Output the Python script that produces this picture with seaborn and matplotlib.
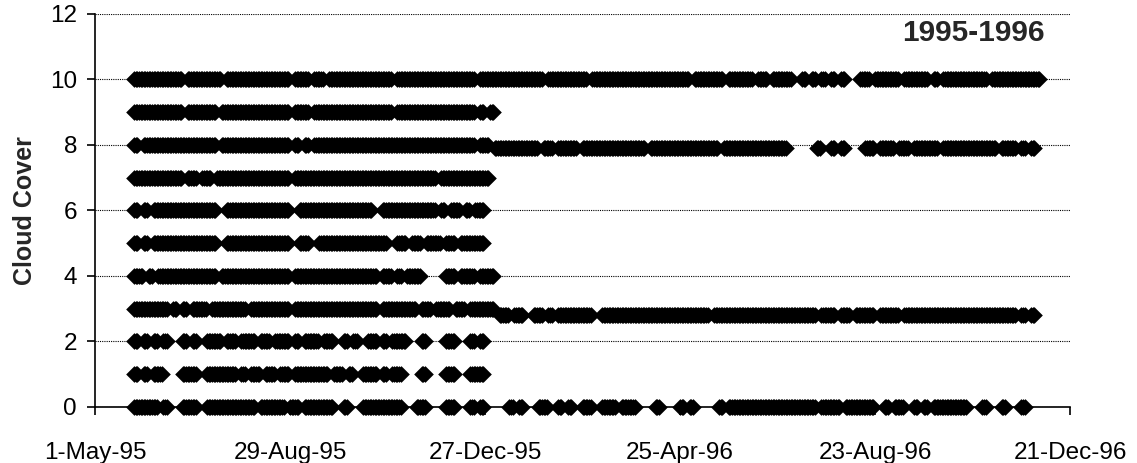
"""
Cloud cover scatter, 1995-1996
"""

import pandas as pd
import matplotlib
matplotlib.use('Agg')
import matplotlib.pyplot as plt
import seaborn as sns

sns.set_style('ticks')
plt.rcParams['font.family'] = ['Liberation Sans', 'DejaVu Sans']

# one character = one 3-day slot counted from START,
# '#' = daily readings at that cover value on each day of the slot
START = pd.Timestamp('1995-05-01')
SLOT_DAYS = 3

TICK_DATES = ['1995-05-01', '1995-08-29', '1995-12-27', '1996-04-25', '1996-08-23', '1996-12-21']

COVER_10 = ["........##", "########.#", "######.###", "##########", ".###.##.##",
            "##########", "#.########", "########.#", "##########", "##.#######",
            "#.########", "##########", "##.######.", "#####.##.#", "###..#.#.#",
            ".#.#...##.", "#####.####", "#.#.######", "###.######", "####......"]
COVER_9 = ["........##", "########.#", "#####.####", "##########", ".###.#####",
           "##########", "#.########", "########.#", ".#........"]
COVER_8 = ["........#.", "##########", "#####.####", "##########", ".#.#.#####",
           "##########", "##########", "########.#", "#........."]
COVER_7_9 = ["..........", "..........", "..........", "..........", "..........",
             "..........", "..........", "..........", "..########", "#.##.####.",
             "##########", "###.######", "########.#", "##########", "##......#.",
             ".#.#....##", ".###.##.##", "###.######", "#####.###.", "#.#......."]
COVER_7 = ["........##", "########.#", "#.##.#####", "##########", ".#########",
           "##########", "##########", ".#########", "#........."]
COVER_6 = ["........#.", "#.########", "#####..###", "##########", "..########",
           "#######..#", "##########", ".#.##.#.##"]
COVER_5 = ["........#.", "#.########", "#####..###", "##########", "..##..####",
           "##########", "..##.##.##", "#.##.#####"]
COVER_4 = ["........##", ".#.#######", "#####.####", "##########", ".#########",
           "########.#", "#.#.###...", "..##.###.#", "##........"]
COVER_3 = ["........##", "#####.#.#.", "###.######", "#.########", ".#########",
           "########.#", "######.##.", "###.##.###", "##........"]
COVER_2_8 = ["..........", "..........", "..........", "..........", "..........",
             "..........", "..........", "..........", "...##.##..", "##.#.#####",
             "##..######", "##########", "######.###", "##########", "########.#",
             "##.##.####", ".####.####", "##########", "#########.", "#.#......."]
COVER_2 = ["........#.", "#.#.#...#.", "#..###.##.", "###.##.###", ".#.###.##.",
           ".#.#..##.#", ".###...#..", "..##...#.#"]
COVER_1 = ["........#.", "#.##....##", "#..######.", "#.##.##.##", ".#######.#",
           "#.#..###.#", ".##....#..", "..##...###"]
COVER_0 = ["........##", "###.#...##", "#..#######", "###.#####.", "##.######.",
           ".#...#####", "###...##..", "..##...#.#", ".....#.#..", ".##..#.#..",
           "##..###.##", "#....#....", "#.#.....#.", "##########", "########.#",
           "###.######", "..#.##..#.", "#.#######.", "..#...#...", "#........."]

COVER_VALUES = [10, 9, 8, 7.9, 7, 6, 5, 4, 3, 2.8, 2, 1, 0]
COVER_MASKS = [COVER_10, COVER_9, COVER_8, COVER_7_9, COVER_7, COVER_6, COVER_5,
               COVER_4, COVER_3, COVER_2_8, COVER_2, COVER_1, COVER_0]

rows = []
for value, groups in zip(COVER_VALUES, COVER_MASKS):
    for g in groups:
        assert len(g) == 10, (value, g)
    mask = ''.join(groups)
    for i, c in enumerate(mask):
        if c == '#':
            for k in range(SLOT_DAYS):
                rows.append((START + pd.Timedelta(days=SLOT_DAYS * i + k), value))
df = pd.DataFrame(rows, columns=['date', 'cover'])

fig = plt.figure(figsize=(11.37, 4.63), dpi=100)
ax = fig.add_axes([0.0836, 0.121, 0.8575, 0.8488])

sns.scatterplot(data=df, x='date', y='cover', marker='D', s=72, color='black',
                linewidth=0, clip_on=False, zorder=3, ax=ax)

ticks = pd.to_datetime(TICK_DATES)
ax.set_xlim(ticks[0], ticks[-1])
ax.set_xticks(ticks)
ax.set_xticklabels([f"{d.day}-{d.strftime('%b-%y')}" for d in ticks])
ax.set_ylim(0, 12)
ax.set_yticks(range(0, 13, 2))

ax.yaxis.grid(True, linestyle=(0, (1, 1)), color='black', linewidth=0.8)
ax.set_axisbelow(True)
sns.despine(ax=ax)
for s in ['left', 'bottom']:
    ax.spines[s].set_linewidth(1.2)
    ax.spines[s].set_color('black')

ax.tick_params(axis='both', direction='out', length=6, width=1.2, color='black',
               labelsize=17.5, labelcolor='black')
ax.tick_params(axis='x', pad=19)
ax.tick_params(axis='y', pad=7)

ax.set_xlabel('')
ax.set_ylabel('Cloud Cover', fontsize=18, fontweight='bold')
ax.yaxis.set_label_coords(-0.06, 0.5)

fig.text(1045 / 1137, 1 - 33 / 463, '1995-1996', ha='right', va='center',
         fontsize=21.5, fontweight='bold')

plt.savefig('out.png', dpi=100)
plt.close()
